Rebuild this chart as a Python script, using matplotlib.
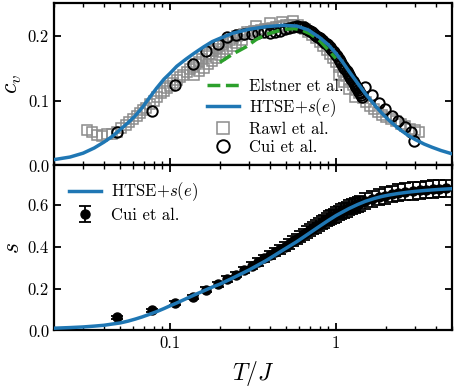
import matplotlib
matplotlib.use("Agg")
import matplotlib.pyplot as plt
from matplotlib.ticker import LogLocator, FuncFormatter, NullFormatter

plt.rcParams["font.family"] = "serif"
plt.rcParams["font.serif"] = ["cmr10"]
plt.rcParams["mathtext.fontset"] = "cm"
plt.rcParams["axes.formatter.use_mathtext"] = True

# --- top panel: specific heat ---
htse_T = [0.02, 0.025, 0.03, 0.035, 0.04, 0.045, 0.05, 0.056, 0.062, 0.068, 0.075,
          0.083, 0.092, 0.1, 0.11, 0.125, 0.14, 0.16, 0.18, 0.2, 0.24, 0.3, 0.38,
          0.48, 0.58, 0.68, 0.8, 0.9, 1.0, 1.1, 1.2, 1.35, 1.5, 1.7, 1.9, 2.1,
          2.38, 2.7, 3.0, 3.4, 3.8, 4.3, 5.0]
htse_cv = [0.009, 0.013, 0.019, 0.027, 0.036, 0.045, 0.055, 0.066, 0.077, 0.089, 0.104,
           0.119, 0.133, 0.142, 0.153, 0.164, 0.173, 0.183, 0.191, 0.196, 0.204, 0.210, 0.214,
           0.216, 0.215, 0.209, 0.197, 0.186, 0.173, 0.159, 0.145, 0.127, 0.111, 0.094, 0.080, 0.069,
           0.057, 0.047, 0.040, 0.033, 0.028, 0.023, 0.018]

elstner_T = [0.2, 0.24, 0.288, 0.33, 0.379, 0.44, 0.5, 0.56, 0.62, 0.7, 0.8, 0.9, 1.0]
elstner_cv = [0.159, 0.172, 0.183, 0.194, 0.202, 0.207, 0.210, 0.211, 0.209, 0.203, 0.192, 0.178, 0.165]

rawl_T = [0.0317, 0.034, 0.0365, 0.039, 0.042, 0.045, 0.048, 0.051, 0.054, 0.057, 0.060,
          0.063, 0.066, 0.069, 0.072, 0.076, 0.080, 0.084, 0.088, 0.092, 0.096, 0.100,
          0.105, 0.110, 0.115, 0.120, 0.126, 0.132, 0.138, 0.144, 0.150, 0.157, 0.164,
          0.172, 0.180, 0.189, 0.198, 0.208, 0.218, 0.229, 0.240, 0.252, 0.265, 0.278,
          0.292, 0.307, 0.322, 0.338, 0.355, 0.373, 0.392, 0.412, 0.433, 0.455, 0.478,
          0.50, 0.53, 0.56, 0.59, 0.62, 0.65, 0.68, 0.72, 0.76, 0.80, 0.84, 0.88, 0.92,
          0.96, 1.00, 1.05, 1.10, 1.15, 1.20, 1.26, 1.32, 1.38, 1.45, 1.52, 1.60, 1.70,
          1.80, 1.90, 2.00, 2.15, 2.30, 2.45, 2.60, 2.80, 3.00, 3.15,
          0.14, 0.15, 0.16, 0.17, 0.18, 0.19, 0.20, 0.21, 0.22, 0.235, 0.25, 0.27,
          0.33, 0.40, 0.47, 0.55, 1.05, 1.12, 1.20, 1.30]
rawl_cv = [0.055, 0.051, 0.047, 0.046, 0.048, 0.049, 0.052, 0.058, 0.062, 0.067, 0.072,
           0.077, 0.081, 0.085, 0.089, 0.095, 0.100, 0.106, 0.111, 0.115, 0.119, 0.122,
           0.127, 0.131, 0.136, 0.140, 0.144, 0.148, 0.152, 0.156, 0.160, 0.164, 0.168,
           0.172, 0.176, 0.180, 0.184, 0.188, 0.191, 0.194, 0.197, 0.199, 0.201, 0.203,
           0.205, 0.206, 0.207, 0.208, 0.209, 0.210, 0.211, 0.212, 0.213, 0.214, 0.215,
           0.216, 0.217, 0.217, 0.216, 0.214, 0.210, 0.206, 0.201, 0.196, 0.190, 0.184, 0.178, 0.172,
           0.166, 0.160, 0.152, 0.145, 0.138, 0.131, 0.124, 0.117, 0.111, 0.104, 0.098, 0.092, 0.087,
           0.082, 0.078, 0.075, 0.071, 0.068, 0.064, 0.061, 0.057, 0.054, 0.052,
           0.140, 0.146, 0.151, 0.156, 0.161, 0.166, 0.171, 0.175, 0.179, 0.184, 0.189, 0.194,
           0.215, 0.219, 0.221, 0.222, 0.140, 0.128, 0.118, 0.105]

cui_T = [0.048, 0.078, 0.107, 0.137, 0.166, 0.195, 0.222, 0.25, 0.28, 0.31, 0.34, 0.37,
         0.40, 0.43, 0.46, 0.49, 0.52, 0.55, 0.58,
         0.60, 0.62, 0.64, 0.66, 0.68, 0.70, 0.72, 0.74, 0.76, 0.78, 0.80, 0.82, 0.84,
         0.86, 0.88, 0.90, 0.92, 0.94, 0.96, 0.98, 1.00, 1.02, 1.04, 1.06, 1.08, 1.10,
         1.12, 1.14, 1.16, 1.18, 1.20, 1.22, 1.24, 1.26, 1.28, 1.30, 1.32, 1.34, 1.36,
         1.38, 1.40, 1.42, 1.44,
         1.50, 1.65, 1.81, 1.98, 2.17, 2.38, 2.62, 2.85, 2.96]
cui_cv = [0.051, 0.084, 0.124, 0.157, 0.176, 0.188, 0.198, 0.201, 0.203, 0.203, 0.204, 0.205,
          0.204, 0.205, 0.207, 0.210, 0.212, 0.213, 0.215,
          0.214, 0.214, 0.213, 0.211, 0.209, 0.207, 0.205, 0.203, 0.200, 0.198, 0.196, 0.194, 0.192,
          0.189, 0.187, 0.185, 0.182, 0.180, 0.177, 0.175, 0.171, 0.168, 0.164, 0.161, 0.158, 0.154,
          0.151, 0.148, 0.145, 0.142, 0.139, 0.136, 0.133, 0.130, 0.127, 0.124, 0.121, 0.119, 0.116,
          0.113, 0.111, 0.108, 0.106,
          0.121, 0.108, 0.097, 0.087, 0.077, 0.068, 0.060, 0.052, 0.037]

# --- bottom panel: entropy ---
htse_s = [0.011, 0.014, 0.017, 0.021, 0.025, 0.031, 0.036, 0.045, 0.055, 0.065, 0.077,
          0.090, 0.105, 0.118, 0.132, 0.152, 0.170, 0.190, 0.208, 0.222, 0.252, 0.290, 0.335,
          0.385, 0.425, 0.462, 0.500, 0.527, 0.550, 0.568, 0.584, 0.603, 0.618, 0.632, 0.642, 0.649,
          0.656, 0.662, 0.666, 0.670, 0.673, 0.676, 0.679]

cui_s_T = [0.048, 0.078, 0.107, 0.137, 0.166, 0.195, 0.222, 0.25, 0.28, 0.31, 0.34, 0.37,
           0.40, 0.43, 0.46, 0.49, 0.52, 0.55, 0.58, 0.61, 0.64, 0.67, 0.70, 0.73, 0.76,
           0.79, 0.82, 0.85, 0.88, 0.91, 0.94, 0.97, 1.00, 1.04, 1.08, 1.12, 1.16, 1.20,
           1.25, 1.30, 1.35, 1.40, 1.50, 1.65, 1.81, 1.98, 2.17, 2.38, 2.62, 2.9, 3.2,
           3.5, 3.85, 4.2, 4.6]
cui_s = [0.063, 0.097, 0.130, 0.162, 0.195, 0.222, 0.247, 0.268, 0.290, 0.310, 0.328, 0.345,
         0.360, 0.375, 0.389, 0.402, 0.415, 0.427, 0.439, 0.450, 0.461, 0.471, 0.481, 0.490, 0.499,
         0.507, 0.515, 0.523, 0.530, 0.537, 0.543, 0.549, 0.555, 0.562, 0.569, 0.575, 0.581, 0.587,
         0.593, 0.599, 0.604, 0.609, 0.618, 0.629, 0.638, 0.646, 0.653, 0.659, 0.664, 0.668, 0.672,
         0.675, 0.677, 0.679, 0.680]
cui_s_err = [0.008, 0.008, 0.009, 0.010, 0.011, 0.012, 0.013, 0.014, 0.015, 0.016, 0.017, 0.018,
             0.019, 0.020, 0.021, 0.022, 0.023, 0.024, 0.025, 0.026, 0.027, 0.028, 0.029, 0.030, 0.030,
             0.031, 0.031, 0.032, 0.032, 0.033, 0.033, 0.034, 0.034, 0.035, 0.035, 0.035, 0.036, 0.036,
             0.036, 0.037, 0.037, 0.037, 0.038, 0.038, 0.039, 0.039, 0.040, 0.040, 0.040, 0.041, 0.041,
             0.042, 0.042, 0.042, 0.042]

blue = "#1f77b4"
green = "#2ca02c"
grey = "#8c8c8c"

fig = plt.figure(figsize=(4.57, 3.87), dpi=100)
ax1 = fig.add_axes([0.118, 0.5724, 0.871, 0.4191])
ax2 = fig.add_axes([0.118, 0.146, 0.871, 0.4264])

ax1.plot(rawl_T, rawl_cv, ls="none", marker="s", ms=7, mfc="none", mec=grey, mew=1.1,
         label="Rawl et al.", zorder=2)
ax1.plot(cui_T, cui_cv, ls="none", marker="o", ms=7.5, mfc="none", mec="k", mew=1.4,
         label="Cui et al.", zorder=3)
ax1.plot(elstner_T, elstner_cv, ls="--", color=green, lw=2.5, label="Elstner et al.", zorder=4)
ax1.plot(htse_T, htse_cv, color=blue, lw=2.5, label="HTSE$+s(e)$", zorder=5)

ax2.errorbar(cui_s_T, cui_s, yerr=cui_s_err, fmt="o", color="k", ms=6.5, capsize=4,
             elinewidth=1.3, capthick=1.3, label="Cui et al.", zorder=2)
ax2.plot(htse_T, htse_s, color=blue, lw=2.5, label="HTSE$+s(e)$", zorder=5)

for ax in (ax1, ax2):
    ax.set_xscale("log")
    ax.set_xlim(0.02, 5)
    ax.xaxis.set_major_locator(LogLocator(base=10))
    ax.xaxis.set_minor_locator(LogLocator(base=10, subs=range(2, 10)))
    ax.xaxis.set_major_formatter(FuncFormatter(lambda v, _: f"{v:g}"))
    ax.xaxis.set_minor_formatter(NullFormatter())
    ax.tick_params(which="both", direction="in", top=True, right=True, labelsize=12)
    ax.tick_params(which="major", length=5, width=1.3)
    ax.tick_params(which="minor", length=3, width=1.0)
    for sp in ax.spines.values():
        sp.set_linewidth(1.6)

ax1.set_ylim(0, 0.25)
ax1.set_yticks([0.0, 0.1, 0.2])
ax1.set_yticklabels(["0.0", "0.1", "0.2"])
ax1.tick_params(labelbottom=False)
ax1.set_ylabel("$c_v$", fontsize=17, labelpad=3)

ax2.set_ylim(0, 0.79)
ax2.set_yticks([0.0, 0.2, 0.4, 0.6])
ax2.set_yticklabels(["0.0", "0.2", "0.4", "0.6"])
ax2.set_ylabel("$s$", fontsize=17, labelpad=3)
ax2.set_xlabel("$T/J$", fontsize=17, labelpad=6)

h, l = ax1.get_legend_handles_labels()
order = [2, 3, 0, 1]
ax1.legend([h[i] for i in order], [l[i] for i in order], loc="lower left",
           bbox_to_anchor=(0.347, -0.027), frameon=False, fontsize=12,
           labelspacing=0.16, handlelength=1.9, handletextpad=0.6, markerscale=1.2)
h, l = ax2.get_legend_handles_labels()
ax2.legend(h, l, loc="upper left", frameon=False, fontsize=12,
           labelspacing=0.25, handlelength=1.9, handletextpad=0.6)

fig.align_ylabels([ax1, ax2])
fig.savefig("out.png", dpi=100)
